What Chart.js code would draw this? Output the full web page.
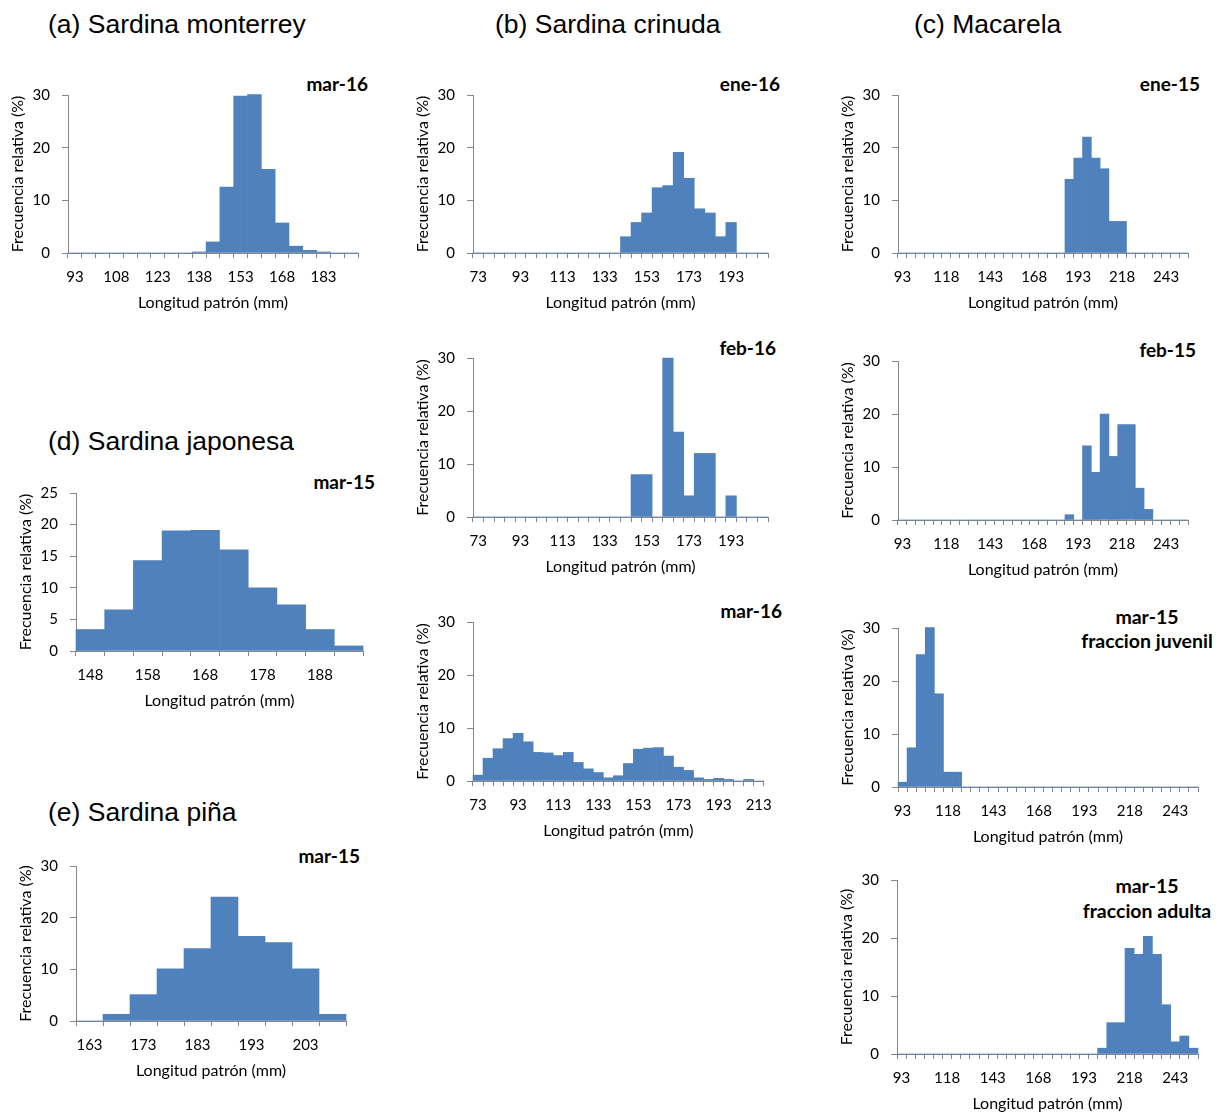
<!DOCTYPE html>
<html>
<head>
<meta charset="utf-8">
<script src="https://cdn.jsdelivr.net/npm/chart.js@4"></script>
<style>
  body { margin: 0; background: #fff; width: 1225px; height: 1115px; position: relative; overflow: hidden; }
  .sec { position: absolute; font-family: "Liberation Sans", Arial, sans-serif; font-size: 26.5px; line-height: 30px; color: #000; white-space: nowrap; }
  .mon { position: absolute; width: 200px; text-align: right; font-family: Lato, sans-serif; font-weight: bold; font-size: 19px; line-height: 22px; color: #000; white-space: nowrap; }
  .mon2 { position: absolute; width: 200px; text-align: center; font-family: Lato, sans-serif; font-weight: bold; font-size: 19.5px; line-height: 24px; color: #000; white-space: nowrap; }
  .box { position: absolute; }
</style>
</head>
<body>

<div class="sec" style="left:48px;top:9px">(a) Sardina monterrey</div>
<div class="sec" style="left:495px;top:9px">(b) Sardina crinuda</div>
<div class="sec" style="left:914px;top:9px">(c) Macarela</div>
<div class="sec" style="left:48px;top:426px">(d) Sardina japonesa</div>
<div class="sec" style="left:48px;top:797px">(e) Sardina piña</div>

<div class="mon" style="left:168px;top:73px">mar-16</div>
<div class="mon" style="left:580px;top:73px">ene-16</div>
<div class="mon" style="left:576px;top:337px">feb-16</div>
<div class="mon" style="left:582px;top:600px">mar-16</div>
<div class="mon" style="left:1000px;top:73px">ene-15</div>
<div class="mon" style="left:996px;top:339px">feb-15</div>
<div class="mon2" style="left:1047px;top:605px">mar-15<br>fraccion juvenil</div>
<div class="mon2" style="left:1047px;top:873px;line-height:25px">mar-15<br>fraccion adulta</div>
<div class="mon" style="left:175px;top:471px">mar-15</div>
<div class="mon" style="left:160px;top:845px">mar-15</div>

<script>
// longitud patrón (mm), clases de 5 mm
const lenMonterrey = [93, 98, 103, 108, 113, 118, 123, 128, 133, 138, 143, 148, 153, 158, 163, 168, 173, 178, 183, 188, 193];
const lenCrinuda = [73, 78, 83, 88, 93, 98, 103, 108, 113, 118, 123, 128, 133, 138, 143, 148, 153, 158, 163, 168, 173, 178, 183, 188, 193, 198, 203, 208];
const lenCrinudaMar = [73, 78, 83, 88, 93, 98, 103, 108, 113, 118, 123, 128, 133, 138, 143, 148, 153, 158, 163, 168, 173, 178, 183, 188, 193, 198, 203, 208, 213];
const lenMacarela = [93, 98, 103, 108, 113, 118, 123, 128, 133, 138, 143, 148, 153, 158, 163, 168, 173, 178, 183, 188, 193, 198, 203, 208, 213, 218, 223, 228, 233, 238, 243, 248, 253];
const lenJaponesa = [148, 153, 158, 163, 168, 173, 178, 183, 188, 193];
const lenPina = [163, 168, 173, 178, 183, 188, 193, 198, 203, 208];

// frecuencia relativa (%)
const monterreyMar16 = [0, 0, 0, 0, 0, 0, 0, 0, 0, 0.2, 2.1, 12.5, 29.8, 30.1, 15.9, 5.7, 1.3, 0.5, 0.2, 0, 0];
const crinudaEne16 = [0, 0, 0, 0, 0, 0, 0, 0, 0, 0, 0, 0, 0, 0, 3.1, 5.8, 7.6, 12.4, 12.8, 19.1, 14.2, 8.4, 7.6, 3.1, 5.8, 0, 0, 0];
const crinudaFeb16 = [0, 0, 0, 0, 0, 0, 0, 0, 0, 0, 0, 0, 0, 0, 0, 8, 8, 0, 30, 16, 4, 12, 12, 0, 4, 0, 0, 0];
const crinudaMar16 = [1.1, 4.3, 6.1, 8.0, 9.0, 7.4, 5.4, 5.3, 4.8, 5.4, 3.5, 2.3, 1.6, 0.6, 1.0, 3.3, 6.0, 6.2, 6.3, 4.7, 2.6, 2.0, 0.6, 0.3, 0.5, 0.3, 0, 0.3, 0];
const macarelaEne15 = [0, 0, 0, 0, 0, 0, 0, 0, 0, 0, 0, 0, 0, 0, 0, 0, 0, 0, 0, 14, 18, 22, 18, 16, 6, 6, 0, 0, 0, 0, 0, 0, 0];
const macarelaFeb15 = [0, 0, 0, 0, 0, 0, 0, 0, 0, 0, 0, 0, 0, 0, 0, 0, 0, 0, 0, 1, 0, 14, 9, 20, 12, 18, 18, 6, 2, 0, 0, 0, 0];
const macarelaJuvenil = [0.9, 7.4, 25, 30.1, 17.6, 2.8, 2.8, 0, 0, 0, 0, 0, 0, 0, 0, 0, 0, 0, 0, 0, 0, 0, 0, 0, 0, 0, 0, 0, 0, 0, 0, 0, 0];
const macarelaAdulta = [0, 0, 0, 0, 0, 0, 0, 0, 0, 0, 0, 0, 0, 0, 0, 0, 0, 0, 0, 0, 0, 0, 1.0, 5.4, 5.4, 18.2, 17.2, 20.3, 17.2, 8.5, 2.1, 3.1, 1.0];
const japonesaMar15 = [3.4, 6.5, 14.3, 19.0, 19.1, 16.0, 10.0, 7.3, 3.4, 0.8];
const pinaMar15 = [0, 1.3, 5.1, 10.1, 14.0, 24.0, 16.4, 15.2, 10.1, 1.3];

const AXIS = "#868686";
const BAR = "#4F81BD";
const YW = 60, XH = 59, PT = 10, PR = 14, EXTRA = 10;

// area = [left, right, top, bottom] of the plot area in page px
function panel(area, labels, values, every, yMax, yStep) {
  const [x0, x1, yT, yB] = area.map(Math.round);
  const box = document.createElement("div");
  box.className = "box";
  box.style.left = (x0 - YW) + "px";
  box.style.top = (yT - PT - EXTRA) + "px";
  box.style.width = (x1 - x0 + YW + PR) + "px";
  box.style.height = (yB - yT + PT + EXTRA + XH) + "px";
  const cv = document.createElement("canvas");
  box.appendChild(cv);
  document.body.appendChild(box);

  new Chart(cv, {
    type: "bar",
    data: {
      labels: labels,
      datasets: [{
        data: values,
        backgroundColor: BAR,
        borderWidth: 0,
        barPercentage: 1,
        categoryPercentage: 1,
        clip: false
      }]
    },
    options: {
      responsive: true,
      maintainAspectRatio: false,
      animation: false,
      layout: { padding: { top: PT, right: PR, left: 0, bottom: 0 } },
      plugins: { legend: { display: false }, tooltip: { enabled: false } },
      scales: {
        x: {
          offset: true,
          grid: { offset: true, drawOnChartArea: false, drawTicks: true, tickLength: 5, color: AXIS },
          border: { color: AXIS, width: 1 },
          ticks: {
            autoSkip: false, maxRotation: 0, padding: 10, color: "#000",
            font: { family: "Lato", size: 15 },
            callback: (v, i) => (i % every === 0 ? labels[i] : "")
          },
          title: { display: true, text: "Longitud patrón (mm)", color: "#000", font: { family: "Lato", size: 16 }, padding: 0 },
          afterFit: (s) => { s.height = XH; }
        },
        y: {
          min: 0, max: yMax,
          grid: { drawOnChartArea: false, drawTicks: true, tickLength: 6, color: AXIS },
          border: { color: AXIS, width: 1 },
          ticks: { stepSize: yStep, padding: 12, color: "#000", font: { family: "Lato", size: 15 } },
          title: { display: true, text: "Frecuencia relativa (%)", color: "#000", font: { family: "Lato", size: 16 }, padding: 0 },
          afterFit: (s) => { s.width = YW; }
        }
      }
    }
  });
}

panel([67.7, 357.7, 94, 253.3], lenMonterrey, monterreyMar16, 3, 30, 10);
panel([472.7, 768.3, 94, 253.3], lenCrinuda, crinudaEne16, 4, 30, 10);
panel([472.7, 768.3, 357, 517], lenCrinuda, crinudaFeb16, 4, 30, 10);
panel([472.7, 767.7, 620.7, 780.7], lenCrinudaMar, crinudaMar16, 4, 30, 10);
panel([898.3, 1188.3, 94, 253.3], lenMacarela, macarelaEne15, 5, 30, 10);
panel([898.3, 1188.3, 360, 520], lenMacarela, macarelaFeb15, 5, 30, 10);
panel([898.3, 1198.3, 626.7, 786.7], lenMacarela, macarelaJuvenil, 5, 30, 10);
panel([896.7, 1197.7, 879.3, 1054.3], lenMacarela, macarelaAdulta, 5, 30, 10);
panel([76, 362.7, 492, 651.3], lenJaponesa, japonesaMar15, 2, 25, 5);
panel([76, 346, 865.3, 1021.3], lenPina, pinaMar15, 2, 30, 10);
</script>
</body>
</html>
